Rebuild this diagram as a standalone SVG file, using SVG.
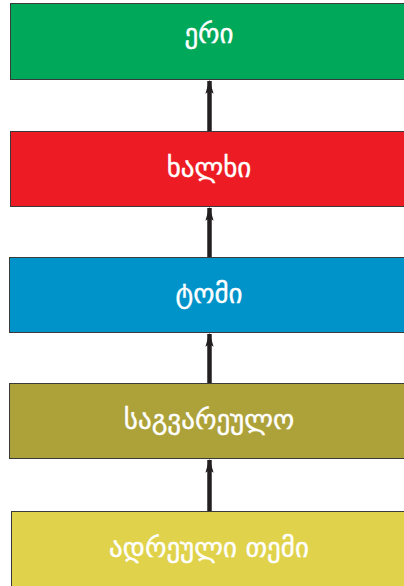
<svg xmlns="http://www.w3.org/2000/svg" width="404" height="586" viewBox="0 0 404 586">
<style>
.box{stroke:#3a3a3a;stroke-width:1}
.lbl{font-family:"DejaVu Sans","Noto Sans",sans-serif;font-size:27px;fill:#fff;stroke:#fff;stroke-width:0.4;text-anchor:middle}
.conn{stroke:#231f20;stroke-width:4.5;fill:none}
</style>
<defs>
<marker id="ah" markerUnits="userSpaceOnUse" markerWidth="14" markerHeight="24" refX="22" refY="7" orient="auto" viewBox="0 0 24 14">
<path d="M0,0 L24,7 L0,14 L5,7 Z" fill="#231f20"/>
</marker>
</defs>
<g id="connectors">
<line class="conn" x1="209.5" y1="131" x2="209.5" y2="81" marker-end="url(#ah)"/>
<line class="conn" x1="209.5" y1="257" x2="209.5" y2="208" marker-end="url(#ah)"/>
<line class="conn" x1="209.5" y1="383" x2="209.5" y2="334" marker-end="url(#ah)"/>
<line class="conn" x1="209.5" y1="511" x2="209.5" y2="460" marker-end="url(#ah)"/>
</g>
<g id="n1"><rect class="box" x="10.5" y="3.5" width="400" height="76" fill="#00a85a"/><text class="lbl" x="209" y="43">ერი</text></g>
<g id="n2"><rect class="box" x="10.5" y="131.5" width="400" height="75" fill="#ed1c24"/><text class="lbl" x="209" y="177">ხალხი</text></g>
<g id="n3"><rect class="box" x="9.5" y="257.5" width="400" height="75" fill="#0093c9"/><text class="lbl" x="209" y="303">ტომი</text></g>
<g id="n4"><rect class="box" x="9.5" y="383.5" width="400" height="75" fill="#ada239"/><text class="lbl" x="209" y="429">საგვარეულო</text></g>
<g id="n5"><rect class="box" x="11.5" y="511.5" width="400" height="80" fill="#e0d24a"/><text class="lbl" x="209" y="557">ადრეული თემი</text></g>
</svg>
